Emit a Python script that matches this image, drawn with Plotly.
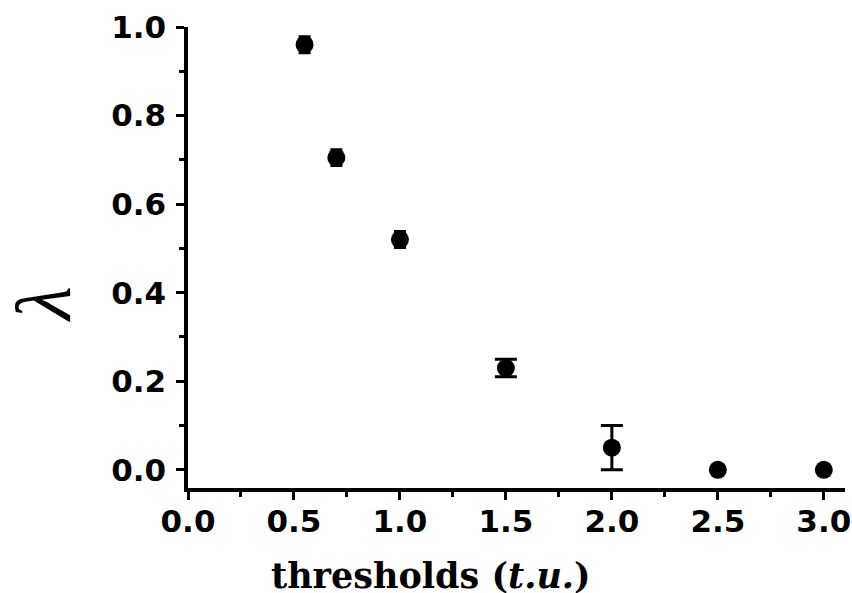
import plotly.graph_objects as go

thresholds = [0.55, 0.7, 1.0, 1.5, 2.0, 2.5, 3.0]
lam = [0.96, 0.705, 0.52, 0.23, 0.05, 0.0, 0.0]
lam_err = [0.018, 0.018, 0.018, 0.02, 0.05, 0.0, 0.0]

x_ticks = [0.0, 0.5, 1.0, 1.5, 2.0, 2.5, 3.0]
y_ticks = [0.0, 0.2, 0.4, 0.6, 0.8, 1.0]

fig = go.Figure()
# group points by how their error bar is drawn (cap hugging marker / wide cap / none)
groups = [
    ([i for i in range(3)], 6, True),
    ([i for i in range(3, 7) if lam_err[i] > 0], 11, True),
    ([i for i in range(3, 7) if lam_err[i] == 0], 0, False),
]
for idx, capw, show_err in groups:
    fig.add_trace(go.Scatter(
        x=[thresholds[i] for i in idx], y=[lam[i] for i in idx], mode="markers",
        marker=dict(color="black", size=18, symbol="circle"),
        error_y=dict(type="data", array=[lam_err[i] for i in idx], visible=show_err,
                     color="black", thickness=3, width=capw),
        showlegend=False,
    ))

tickfont = dict(family="DejaVu Sans", size=31, color="black", weight="bold")

fig.update_xaxes(
    range=[0, 3.1], tickvals=x_ticks,
    ticktext=[f"{v:.1f}" for v in x_ticks],
    showline=True, linewidth=3.5, linecolor="black",
    ticks="outside", ticklen=8, tickwidth=3, tickcolor="black",
    minor=dict(ticks="outside", dtick=0.25, tick0=0, ticklen=5, tickwidth=3, tickcolor="black"),
    showgrid=False, zeroline=False, tickfont=tickfont,
    automargin=False, ticklabeloverflow="allow", ticklabelstandoff=-5,
)
fig.update_yaxes(
    range=[-0.041, 1.0], tickvals=y_ticks,
    ticktext=[f"{v:.1f}" for v in y_ticks],
    showline=True, linewidth=3.5, linecolor="black",
    ticks="outside", ticklen=8, tickwidth=3, tickcolor="black",
    minor=dict(ticks="outside", dtick=0.1, tick0=0, ticklen=5, tickwidth=3, tickcolor="black"),
    showgrid=False, zeroline=False, tickfont=tickfont,
    automargin=False, ticklabeloverflow="allow", ticklabelstandoff=4,
)

fig.add_annotation(
    text="thresholds (<i>t.u.</i>)", xref="paper", yref="paper",
    x=(431 - 188) / (845 - 188), y=-(575 - 488) / (488 - 27),
    showarrow=False, xanchor="center", yanchor="middle",
    font=dict(family="DejaVu Serif", size=35, color="black", weight="bold"),
)
fig.add_annotation(
    text="<i>λ</i>", xref="paper", yref="paper",
    x=-(188 - 43) / (845 - 188), y=(488 - 304) / (488 - 27),
    showarrow=False, xanchor="center", yanchor="middle", textangle=-90,
    font=dict(family="Liberation Serif", size=78, color="black"),
)

fig.update_layout(
    width=852, height=593,
    margin=dict(l=188, r=7, t=27, b=105, autoexpand=False),
    plot_bgcolor="white", paper_bgcolor="white",
)

fig.write_html(
    "out.html",
    config={"displayModeBar": False},
    post_script="document.body.style.margin='0';document.body.style.overflow='hidden';",
)
